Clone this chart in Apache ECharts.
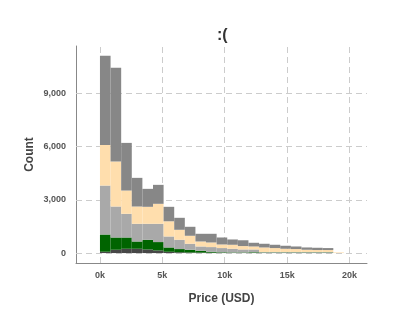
<!DOCTYPE html>
<html>
<head>
<meta charset="utf-8">
<script src="https://cdn.jsdelivr.net/npm/echarts@6/dist/echarts.min.js"></script>
<style>html,body{margin:0;padding:0;background:#fff}#c{width:396px;height:324px}</style>
</head>
<body>
<div id="c"></div>
<script>
// Histogram of price (USD) by cut, bin width 850, bins start at 0
const binWidth = 850;
const fair     = [75,186,242,242,202,146,73,45,30,25,20,15,10,10,10,5,5,5,5,5,5,5,0];
const good     = [970,691,635,410,546,473,242,180,156,104,53,30,25,25,35,25,25,25,25,25,25,25,0];
const veryGood = [2756,1744,1333,996,900,1029,619,523,337,242,264,236,207,167,157,30,30,30,30,30,30,30,0];
const premium  = [2289,2531,1311,973,956,1125,855,562,450,281,259,203,225,192,169,255,221,182,165,126,109,109,35];
const ideal    = [5022,5287,2683,1614,1012,1068,815,675,506,433,489,393,298,326,208,208,186,169,146,129,129,112,0];
const layers = [fair, good, veryGood, premium, ideal];
const layerColors = ['#474747', '#006400', '#a9a9a9', '#ffdead', '#878787'];
const xTicks = [0, 5000, 10000, 15000, 20000];
const yTicks = [0, 3000, 6000, 9000];

const base = new Array(fair.length).fill(0);
const series = [];
series.push({
  type: 'line', data: [], z: 1, animation: false,
  markLine: {
    z: 1, silent: true, symbol: ['none', 'none'], label: {show: false}, animation: false,
    lineStyle: {type: [6, 4], color: '#cccccc', width: 1},
    data: xTicks.map(v => ({xAxis: v})).concat(yTicks.map(v => ({yAxis: v})))
  }
});
layers.forEach((arr, li) => {
  const data = arr.map((v, i) => {
    const y0 = base[i];
    base[i] += v;
    return [i * binWidth, (i + 1) * binWidth, y0, y0 + v];
  });
  const color = layerColors[li];
  series.push({
    type: 'custom',
    z: 10,
    animation: false,
    renderItem: (params, api) => {
      const p0 = api.coord([api.value(0), api.value(3)]);
      const p1 = api.coord([api.value(1), api.value(2)]);
      return {type: 'rect', shape: {x: p0[0], y: p0[1], width: p1[0] - p0[0], height: p1[1] - p0[1]}, style: {fill: color}};
    },
    encode: {x: [0, 1], y: [2, 3]},
    data: data
  });
});

const chart = echarts.init(document.getElementById('c'), null, {renderer: 'canvas'});
const font = 'Liberation Sans, Arial, sans-serif';
chart.setOption({
  animation: false,
  title: {text: ':(', left: 212, top: 23, textStyle: {fontFamily: font, fontSize: 16, fontWeight: 'bold', color: '#333'}},
  grid: {left: 76, right: 29, top: 46, bottom: 61},
  xAxis: {
    type: 'value', min: -1920, max: 21400,
    name: 'Price (USD)', nameLocation: 'middle', nameGap: 30, nameMoveOverlap: false,
    nameTextStyle: {fontFamily: font, fontSize: 12, fontWeight: 'bold', color: '#444'},
    axisLine: {show: true, onZero: false, lineStyle: {color: '#888', width: 1}},
    axisTick: {show: false},
    splitLine: {show: false},
    axisLabel: {customValues: xTicks, margin: 8, fontFamily: font, fontSize: 9, fontWeight: 'bold', color: '#555',
      formatter: v => (v / 1000) + 'k'}
  },
  yAxis: {
    type: 'value', min: -560, max: 11660,
    name: 'Count', nameLocation: 'middle', nameGap: 40, nameRotate: 90, nameMoveOverlap: false,
    nameTextStyle: {fontFamily: font, fontSize: 12, fontWeight: 'bold', color: '#444'},
    axisLine: {show: true, onZero: false, lineStyle: {color: '#888', width: 1}},
    axisTick: {show: false},
    splitLine: {show: false},
    axisLabel: {customValues: yTicks, margin: 10, fontFamily: font, fontSize: 9, fontWeight: 'bold', color: '#555',
      formatter: v => v.toLocaleString('en-US')}
  },
  series: series
});
</script>
</body>
</html>
